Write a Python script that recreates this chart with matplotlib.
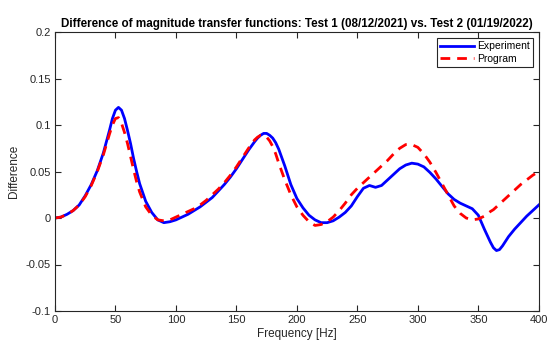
import numpy as np
import matplotlib.pyplot as plt

plt.rcParams['font.family'] = ['Liberation Sans', 'DejaVu Sans']

# frequency grid [Hz], denser around the sharp features
freq = ([0, 5, 10, 15, 20, 25, 30, 35, 40, 42.5, 45, 47.5, 50, 52.5, 55, 57.5, 60,
         62.5, 65, 67.5, 70, 75, 80, 85, 90, 95, 100, 105, 110, 115, 120, 125,
         130, 135, 140, 145, 150, 155, 160, 165, 167.5, 170, 172.5, 175, 177.5,
         180, 182.5, 185, 190, 195, 200, 205, 210, 215, 220, 225, 230, 235, 240,
         245, 250, 255, 260, 265, 270, 275, 280, 285, 290, 295, 300, 305, 310,
         315, 320, 325, 330, 335, 340, 345, 350, 355, 360, 362.5, 365, 367.5,
         370, 375, 380, 385, 390, 395, 400])

# Experiment difference
experiment = [
    0.000, 0.001, 0.004, 0.008, 0.014, 0.024, 0.036, 0.051, 0.070, 0.082,
    0.094, 0.107, 0.116, 0.119, 0.116, 0.107, 0.094,
    0.080, 0.064, 0.050, 0.037, 0.018, 0.006, -0.002, -0.005, -0.004,
    -0.002, 0.001, 0.004, 0.008, 0.012, 0.017,
    0.022, 0.029, 0.036, 0.044, 0.053, 0.063, 0.073, 0.082, 0.086, 0.089, 0.091,
    0.091, 0.089, 0.086, 0.081, 0.074, 0.056, 0.036, 0.021, 0.011, 0.003,
    -0.002, -0.005, -0.005, -0.003, 0.001, 0.006, 0.013, 0.023, 0.032, 0.035,
    0.033, 0.035, 0.041, 0.047, 0.053, 0.057, 0.059, 0.058, 0.055, 0.049,
    0.042, 0.034, 0.026, 0.020, 0.016, 0.013, 0.010, 0.003, -0.012, -0.026,
    -0.032, -0.035, -0.034, -0.030, -0.020, -0.012, -0.005, 0.002, 0.008, 0.014,
]

# Program difference
program = [
    0.000, 0.001, 0.004, 0.008, 0.014, 0.023, 0.035, 0.050, 0.068, 0.079,
    0.090, 0.100, 0.107, 0.108, 0.102, 0.092, 0.080,
    0.066, 0.052, 0.039, 0.028, 0.012, 0.003, -0.002, -0.003, -0.002,
    0.001, 0.004, 0.007, 0.010, 0.014, 0.019,
    0.025, 0.031, 0.038, 0.046, 0.055, 0.065, 0.075, 0.084, 0.087, 0.089, 0.089,
    0.087, 0.083, 0.077, 0.069, 0.059, 0.041, 0.025, 0.012, 0.003, -0.004,
    -0.008, -0.007, -0.004, 0.001, 0.008, 0.016, 0.025, 0.032, 0.038, 0.044,
    0.050, 0.056, 0.062, 0.069, 0.075, 0.079, 0.079, 0.076, 0.069, 0.060,
    0.049, 0.037, 0.025, 0.013, 0.005, 0.000, -0.002, -0.001, 0.002, 0.007,
    0.009, 0.012, 0.015, 0.018, 0.024, 0.030, 0.036, 0.041, 0.046, 0.050,
]

fig = plt.figure(figsize=(5.47, 3.45), dpi=100)
ax = fig.add_axes([0.1005, 0.0986, 0.8845, 0.8084])

ax.plot(freq, experiment, color='#0000ff', lw=2, label='Experiment')
ax.plot(freq, program, color='#ff0000', lw=2, ls=(0, (3.5, 2.5)), label='Program')

ax.set_xlim(0, 400)
ax.set_ylim(-0.1, 0.2)
ax.set_xticks(np.arange(0, 401, 50))
ax.set_yticks([-0.1, -0.05, 0, 0.05, 0.1, 0.15, 0.2])
ax.set_yticklabels(['-0.1', '-0.05', '0', '0.05', '0.1', '0.15', '0.2'])

ax.tick_params(direction='in', top=True, right=True, length=4, width=0.8,
               labelsize=8, colors='#262626', pad=3)
for s in ax.spines.values():
    s.set_color('#262626')
    s.set_linewidth(0.8)

ax.set_xlabel('Frequency [Hz]', fontsize=8.5, color='#262626', labelpad=2)
ax.set_ylabel('Difference', fontsize=8.5, color='#262626', labelpad=4)
ax.set_title('Difference of magnitude transfer functions: Test 1 (08/12/2021) vs. Test 2 (01/19/2022)',
             fontsize=8.4, fontweight='bold', pad=4)

leg = ax.legend(loc='upper right', fontsize=7.5, fancybox=False, framealpha=1,
                edgecolor='#262626', borderaxespad=0.6, handlelength=3.2,
                handletextpad=0.3, borderpad=0.3, labelspacing=0.2)
leg.get_frame().set_linewidth(0.8)

fig.savefig('out.png', dpi=100)
